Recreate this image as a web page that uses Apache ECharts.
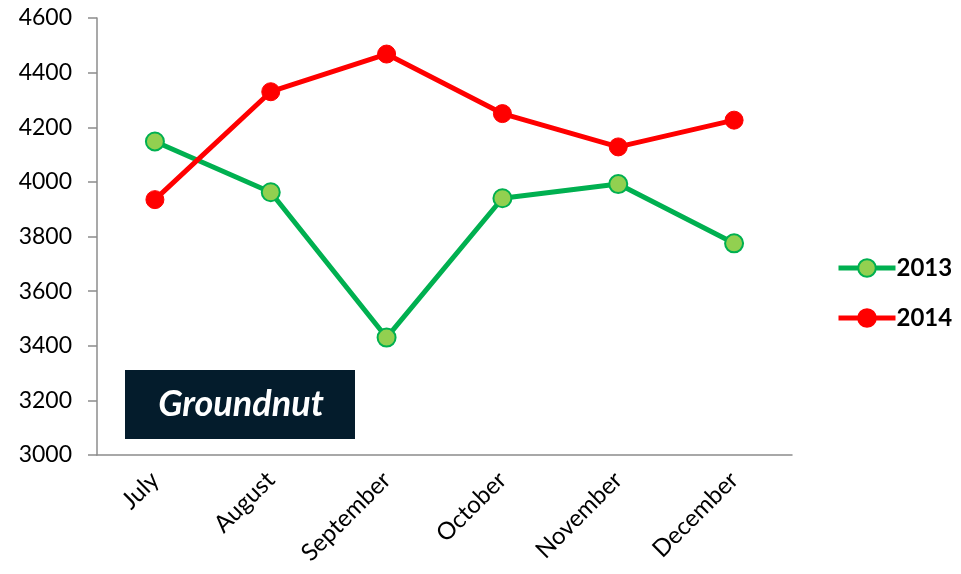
<!DOCTYPE html>
<html>
<head>
<meta charset="utf-8">
<script src="https://cdn.jsdelivr.net/npm/echarts@6/dist/echarts.min.js"></script>
<style>
  html, body { margin: 0; padding: 0; background: #fff; }
  #chart { width: 961px; height: 574px; }
</style>
</head>
<body>
<div id="chart"></div>
<script>
// Monthly groundnut figures, July to December
const months = ['July', 'August', 'September', 'October', 'November', 'December'];
const values2013 = [4148, 3962, 3430, 3940, 3992, 3775];
const values2014 = [3935, 4330, 4468, 4250, 4128, 4226];
const yTicks = { min: 3000, max: 4600, step: 200 };
const boxLabel = 'Groundnut';

const FONT = 'Lato, "Open Sans", sans-serif';
const chart = echarts.init(document.getElementById('chart'));

chart.setOption({
  backgroundColor: '#ffffff',
  animation: false,
  grid: { left: 97, right: 169, top: 18, bottom: 119, containLabel: false },
  legend: {
    orient: 'vertical',
    left: 831,
    top: 251,
    itemWidth: 57,
    itemHeight: 22,
    itemGap: 26,
    textStyle: { fontFamily: FONT, fontSize: 24, fontWeight: 'bold', color: '#000', padding: [0, 0, 0, -4] },
    data: [
      { name: '2013', lineStyle: { width: 5 } },
      { name: '2014', lineStyle: { width: 5 } }
    ]
  },
  xAxis: {
    type: 'category',
    data: months,
    boundaryGap: true,
    axisLine: { lineStyle: { color: '#8c8c8c', width: 1.5 } },
    axisTick: { alignWithLabel: false, length: 9, lineStyle: { color: '#8c8c8c', width: 1.5 } },
    axisLabel: {
      rotate: 45,
      margin: 21,
      fontFamily: FONT,
      fontSize: 24,
      color: '#000'
    },
    splitLine: { show: false }
  },
  yAxis: {
    type: 'value',
    min: yTicks.min,
    max: yTicks.max,
    interval: yTicks.step,
    axisLine: { show: true, lineStyle: { color: '#8c8c8c', width: 1.5 } },
    axisTick: { show: true, length: 9, lineStyle: { color: '#8c8c8c', width: 1.5 } },
    axisLabel: {
      margin: 25,
      fontFamily: FONT,
      fontSize: 23,
      color: '#000',
      formatter: (v) => String(v)
    },
    splitLine: { show: false }
  },
  series: [
    {
      name: '2013',
      type: 'line',
      data: values2013,
      symbol: 'circle',
      symbolSize: 18,
      lineStyle: { color: '#00b050', width: 5 },
      itemStyle: { color: '#92d050', borderColor: '#00b050', borderWidth: 2 },
      z: 2
    },
    {
      name: '2014',
      type: 'line',
      data: values2014,
      symbol: 'circle',
      symbolSize: 18,
      lineStyle: { color: '#ff0000', width: 5 },
      itemStyle: { color: '#ff0000', borderColor: '#ff0000', borderWidth: 1 },
      z: 3
    }
  ],
  graphic: [
    {
      type: 'group',
      left: 125,
      top: 370,
      children: [
        {
          type: 'rect',
          shape: { x: 0, y: 0, width: 230, height: 69 },
          style: { fill: '#041c2c' }
        },
        {
          type: 'text',
          x: 116,
          y: 34,
          style: {
            text: boxLabel,
            fill: '#ffffff',
            font: 'italic bold 36px ' + FONT,
            textAlign: 'center',
            textVerticalAlign: 'middle'
          }
        }
      ]
    }
  ]
});
</script>
</body>
</html>
